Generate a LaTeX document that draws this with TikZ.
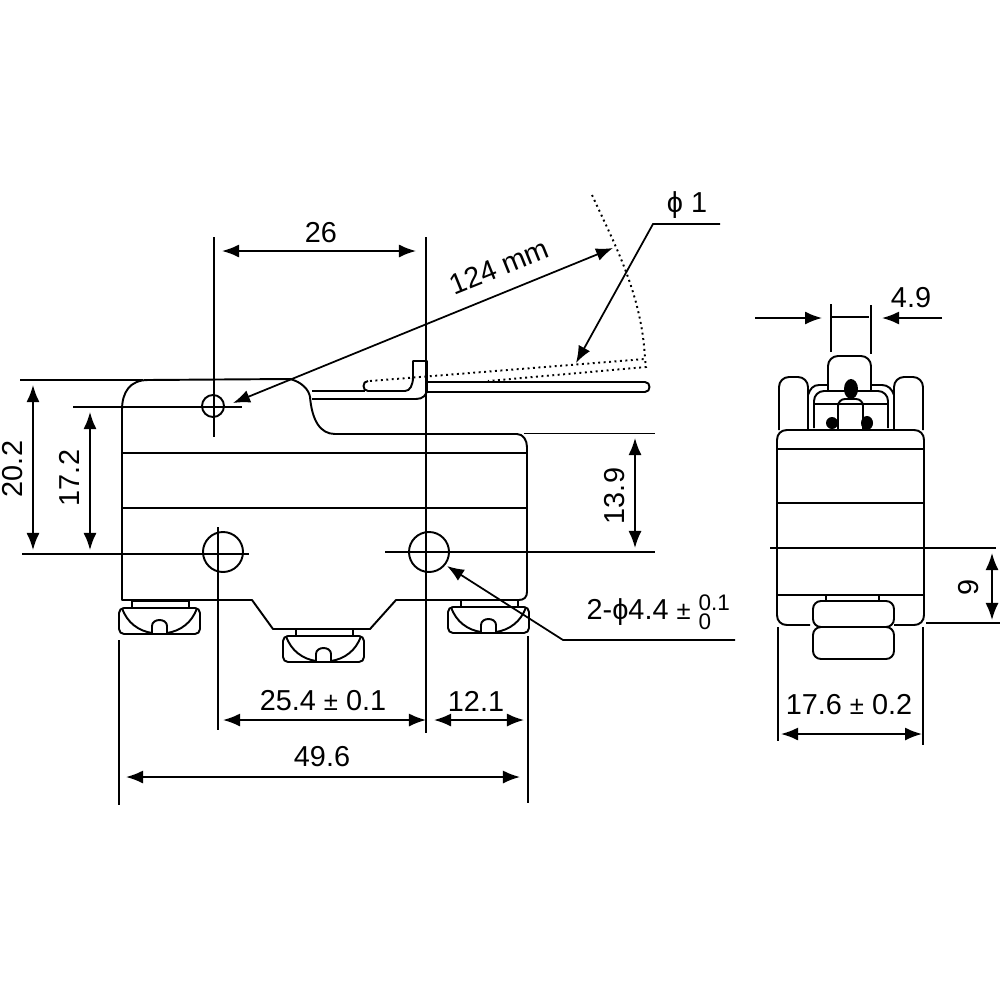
\documentclass[tikz,border=0pt]{standalone}
\usepackage{fontspec}
\setmainfont{Liberation Sans}
\usepackage{tikz}
\usetikzlibrary{arrows.meta}
\newcommand{\smallpm}{{\fontsize{7.3}{8}\selectfont ±}}
\tikzset{
  part/.style={line width=.55pt,line join=round},
  thinline/.style={line width=.5pt},
  dimline/.style={line width=.5pt,{Latex[length=.17cm,width=.13cm]}-{Latex[length=.17cm,width=.13cm]}},
  leader/.style={line width=.5pt,-{Latex[length=.17cm,width=.13cm]}},
  trail/.style={line width=.55pt,densely dotted},
  dimtext/.style={inner sep=0pt,font=\fontsize{8.2}{10}\selectfont},
  terminal/.pic={
    \draw[part] (13,-7) rectangle (70,0);
    \draw[part,rounded corners=.05cm] (0,0) rectangle (81,26);
    \draw[part] (3,0) .. controls (8,15) and (20,23) .. (33,25) -- (33,18)
      .. controls (33,10) and (48,10) .. (48,18) -- (48,25)
      .. controls (61,23) and (73,15) .. (78,0);
  }
}
\begin{document}
\begin{tikzpicture}[x=.01cm,y=-.01cm]
\useasboundingbox (0,0) rectangle (1000,1000);
% side view, body
\draw[part] (122,600) -- (122,410) .. controls (122,392) and (130,380) .. (148,380)
  -- (290,379) .. controls (302,382) and (309,390) .. (310,397)
  .. controls (312,420) and (320,434) .. (335,434) -- (517,434)
  .. controls (523,434) and (527,440) .. (527,447) -- (527,592)
  .. controls (527,597) and (524,600) .. (519,600) -- (396,600) -- (370,629)
  -- (273,629) -- (252,600) -- cycle;
\draw[part] (122,453) -- (527,453);
\draw[thinline] (122,508) -- (527,508);
% lever
\draw[part] (312,391) -- (365,391);
\draw[part] (312,399) -- (416,399) .. controls (423,399) and (427,395) .. (427,389);
\draw[part] (427,382) -- (645,382) .. controls (651,382) and (651,392) .. (645,392) -- (427,392) -- (427,361)
  -- (413,361) -- (413,377) .. controls (413,385) and (410,391) .. (405,391) -- (368,391)
  .. controls (362,391) and (362,381) .. (368,381);
% operated position
\draw[trail] (370,381) -- (645,359) -- (646,367) -- (488,381);
\draw[trail] (592,195) .. controls (615,245) and (642,295) .. (645,359);
% holes
\node[draw,part,circle,minimum size=.4cm,inner sep=0pt] (holeL) at (223,552) {};
\node[draw,part,circle,minimum size=.4cm,inner sep=0pt] (holeR) at (429,552) {};
\node[draw,part,circle,minimum size=.22cm,inner sep=0pt] (holeS) at (213,406) {};
% terminals
\pic at (119,608) {terminal};
\pic at (283,636) {terminal};
\pic at (448,607) {terminal};
% center and extension lines
\draw[thinline] (214,237) -- (214,437);
\draw[thinline] (426,237) -- (426,733);
\draw[thinline] (218,527) -- (218,730);
\draw[thinline] (20,380) -- (143,380);
\draw[thinline] (73,407) -- (242,407);
\draw[thinline] (22,554) -- (249,554);
\draw[thinline] (385,552) -- (655,552);
\draw[thinline] (524,433.5) -- (655,433.5);
\draw[thinline] (119,640) -- (119,805);
\draw[thinline] (528,636) -- (528,803);
% dimensions, side view
\draw[dimline] (222,251) -- (416,251);
\node[dimtext] (lblA) at (321,233) {26};
\draw[dimline] (223,720) -- (426,720);
\node[dimtext] (lblB) at (323,701) {25.4 \smallpm{} 0.1};
\draw[dimline] (434,720) -- (524,720);
\node[dimtext] (lblC) at (476,701) {12.1};
\draw[dimline] (126,777) -- (520,777);
\node[dimtext] (lblD) at (322,757) {49.6};
\draw[dimline] (33,385) -- (33,550);
\node[dimtext,rotate=90] (lblE) at (13,469) {20.2};
\draw[dimline] (90,412) -- (90,550);
\node[dimtext,rotate=90] (lblF) at (69,478) {17.2};
\draw[dimline] (635,438) -- (635,548);
\node[dimtext,rotate=90] (lblG) at (615,496) {13.9};
\draw[dimline] (233,403) -- (613,248);
\node[dimtext,rotate=22] (lblH) at (499,267) {124 mm};
\draw[leader] (720,224) -- (653,224) -- (576,363);
\node[dimtext] (lblI) at (687,205) {ϕ 1};
\draw[leader] (735,640) -- (563,640) -- (447,566);
\node[dimtext,anchor=base west] (lblJ) at (586,619) {2-ϕ4.4 \smallpm{} \rlap{\raisebox{2.3pt}{\fontsize{6.4}{7}\selectfont 0.1}}\raisebox{-3.1pt}{\fontsize{6.4}{7}\selectfont 0}};
% end view
\draw[part,rounded corners=.1cm] (828,390) -- (828,356) -- (871,356) -- (871,390);
\draw[part,rounded corners=.1cm] (779,430) -- (779,377) -- (808,377) -- (808,430);
\draw[part,rounded corners=.1cm] (894,430) -- (894,377) -- (923,377) -- (923,430);
\draw[part] (808,430) -- (808,395) .. controls (810,389) and (813,385) .. (819,385) -- (828,385);
\draw[part] (871,385) -- (882,385) .. controls (888,385) and (892,389) .. (894,395);
\draw[part,rounded corners=.1cm] (814,428) -- (814,391) -- (888,391) -- (888,428);
\draw[part] (814,404) -- (888,404);
\draw[part,rounded corners=.07cm] (838,430) -- (838,399) -- (863,399) -- (863,430);
\fill (851,389) ellipse (7 and 10);
\fill (832,423) circle (6);
\fill (867,423) ellipse (6 and 7);
\draw[part] (810,625) -- (787,625) .. controls (781,625) and (777,621) .. (777,615) -- (777,440)
  .. controls (777,434) and (781,430) .. (787,430) -- (914,430)
  .. controls (920,430) and (924,434) .. (924,440) -- (924,615)
  .. controls (924,621) and (920,625) .. (914,625) -- (894,625);
\draw[part] (777,449) -- (924,449);
\draw[thinline] (777,503) -- (924,503);
\draw[part] (777,595) -- (924,595);
\draw[part] (826,595) rectangle (879,601);
\draw[part,rounded corners=.08cm] (813,601) rectangle (894,627);
\draw[part,rounded corners=.08cm] (813,627) rectangle (894,659);
% dimensions, end view
\draw[thinline] (831,304) -- (831,352);
\draw[thinline] (871,305) -- (871,354);
\draw[thinline] (831,317) -- (869,317);
\draw[leader] (755,318) -- (822,318);
\draw[leader] (942,318) -- (882,318);
\node[dimtext] (lblK) at (911,298) {4.9};
\draw[thinline] (770,548) -- (996,548);
\draw[thinline] (926,623) -- (1000,623);
\draw[thinline] (778,627) -- (778,741);
\draw[thinline] (923,627) -- (923,745);
\draw[dimline] (992,553) -- (992,620);
\node[dimtext,rotate=90] (lblL) at (969,587) {9};
\draw[dimline] (781,734) -- (922,734);
\node[dimtext] (lblM) at (849,705) {17.6 \smallpm{} 0.2};
\end{tikzpicture}
\end{document}
